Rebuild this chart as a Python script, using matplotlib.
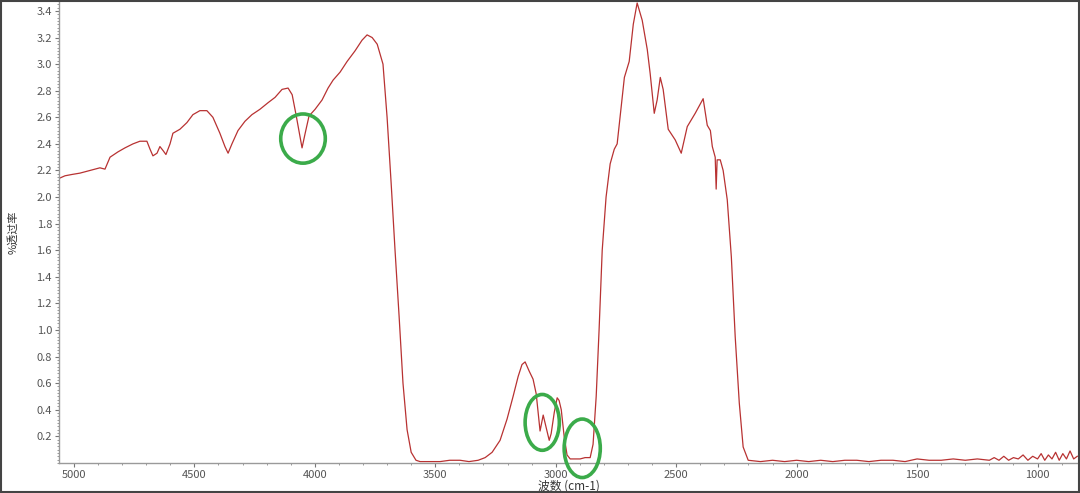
import matplotlib.pyplot as plt
from matplotlib.patches import Ellipse, Rectangle
from matplotlib.ticker import MultipleLocator

plt.rcParams['font.family'] = ['Noto Sans CJK SC', 'DejaVu Sans']

# spectrum: wavenumber (cm-1) and %transmittance
wavenumber = [
    5062, 5037, 5008, 4975, 4934, 4892, 4871, 4850, 4817, 4788, 4755, 4726,
    4697, 4684, 4672, 4655, 4643, 4630, 4618, 4601, 4589, 4560, 4531, 4506,
    4477, 4448, 4423, 4394, 4373, 4360, 4344, 4319, 4290, 4261, 4228, 4194,
    4165, 4136, 4111, 4094, 4078, 4061, 4053, 4040, 4024, 3999, 3970, 3945,
    3924, 3895, 3866, 3833, 3804, 3783, 3762, 3741, 3725, 3717, 3700, 3683,
    3667, 3650, 3634, 3617, 3600, 3580, 3563, 3520, 3480, 3440, 3397, 3360,
    3322, 3293, 3264, 3231, 3202, 3177, 3156, 3140, 3127, 3110, 3094, 3081,
    3073, 3065, 3052, 3040, 3027, 3019, 3006, 2994, 2986, 2977, 2965, 2953,
    2940, 2920, 2899, 2878, 2857, 2845, 2832, 2820, 2807, 2791, 2774, 2757,
    2745, 2732, 2715, 2695, 2678, 2662, 2641, 2620, 2608, 2591, 2579, 2566,
    2554, 2533, 2504, 2479, 2454, 2421, 2388, 2371, 2358, 2350, 2338, 2334,
    2330, 2317, 2305, 2288, 2271, 2255, 2238, 2222, 2201,
    2150, 2100, 2050, 2000, 1950, 1900, 1850, 1800, 1750, 1700, 1650, 1600,
    1550, 1500, 1450, 1400, 1350, 1300, 1250, 1200, 1180, 1160, 1140, 1120,
    1100, 1080, 1060, 1040, 1020, 1000, 985, 970, 955, 940, 925, 910, 895,
    880, 865, 850, 835,
]
transmittance = [
    2.14, 2.16, 2.17, 2.18, 2.20, 2.22, 2.21, 2.30, 2.34, 2.37, 2.40, 2.42,
    2.42, 2.36, 2.31, 2.33, 2.38, 2.35, 2.32, 2.40, 2.48, 2.51, 2.56, 2.62,
    2.65, 2.65, 2.60, 2.48, 2.38, 2.33, 2.40, 2.50, 2.57, 2.62, 2.66, 2.71,
    2.75, 2.81, 2.82, 2.77, 2.62, 2.45, 2.37, 2.48, 2.61, 2.66, 2.73, 2.82,
    2.88, 2.94, 3.02, 3.10, 3.18, 3.22, 3.20, 3.15, 3.05, 3.00, 2.60, 2.10,
    1.60, 1.10, 0.60, 0.25, 0.08, 0.02, 0.01, 0.01, 0.01, 0.02, 0.02, 0.01,
    0.02, 0.04, 0.08, 0.17, 0.33, 0.50, 0.65, 0.74, 0.76, 0.69, 0.63, 0.52,
    0.38, 0.24, 0.36, 0.27, 0.17, 0.22, 0.38, 0.49, 0.47, 0.40, 0.20, 0.06,
    0.03, 0.03, 0.03, 0.04, 0.04, 0.14, 0.50, 1.00, 1.60, 2.00, 2.25, 2.36,
    2.40, 2.62, 2.90, 3.02, 3.30, 3.46, 3.33, 3.11, 2.93, 2.63, 2.73, 2.90,
    2.81, 2.51, 2.43, 2.33, 2.53, 2.63, 2.74, 2.54, 2.50, 2.38, 2.30, 2.06,
    2.28, 2.28, 2.20, 1.98, 1.55, 0.95, 0.45, 0.12, 0.02,
    0.01, 0.02, 0.01, 0.02, 0.01, 0.02, 0.01, 0.02, 0.02, 0.01, 0.02, 0.02,
    0.01, 0.03, 0.02, 0.02, 0.03, 0.02, 0.03, 0.02, 0.04, 0.02, 0.05, 0.02,
    0.04, 0.03, 0.06, 0.02, 0.05, 0.03, 0.07, 0.02, 0.06, 0.03, 0.08, 0.02,
    0.07, 0.03, 0.09, 0.03, 0.05,
]

# green marker ellipses: centre (cm-1, %T), width (cm-1), height (%T)
marks = [
    (4049, 2.44, 185, 0.37),
    (3056, 0.305, 142, 0.42),
    (2890, 0.11, 150, 0.44),
]

fig = plt.figure(figsize=(10.8, 4.93), dpi=100)
ax = fig.add_axes([0.0546, 0.061, 0.944, 0.937])

ax.plot(wavenumber, transmittance, color='#b83232', lw=0.9)

for cx, cy, w, h in marks:
    ax.add_patch(Ellipse((cx, cy), w, h, fill=False, edgecolor='#3bab4a',
                         lw=2.6, clip_on=False, zorder=5))

ax.set_xlim(5062, 830)
ax.set_ylim(0, 3.475)
ax.xaxis.set_major_locator(MultipleLocator(500))
ax.xaxis.set_minor_locator(MultipleLocator(100))
ax.set_yticks([0.2 * i for i in range(1, 18)])
ax.yaxis.set_minor_locator(MultipleLocator(0.025))
ax.yaxis.set_major_formatter(plt.FuncFormatter(lambda v, p: f"{v:.1f}"))

for s in ['top', 'right']:
    ax.spines[s].set_visible(False)
for s in ['left', 'bottom']:
    ax.spines[s].set_color('#9a9a9a')
    ax.spines[s].set_linewidth(1.0)
ax.tick_params(which='major', length=3, color='#777777', labelcolor='#555555',
               labelsize=8, pad=2)
ax.tick_params(which='minor', length=1.5, color='#888888')

ax.set_xlabel('波数 (cm-1)', fontsize=8.5, color='#333333', labelpad=0)
ax.set_ylabel('%透过率', fontsize=8, color='#333333')
ax.yaxis.set_label_coords(-0.04, 0.5)

# picture border
fig.patches.append(Rectangle((0.001, 0.002), 0.998, 0.996, transform=fig.transFigure,
                             fill=False, edgecolor='#444444', lw=1.5))

fig.savefig('out.png', dpi=100)
